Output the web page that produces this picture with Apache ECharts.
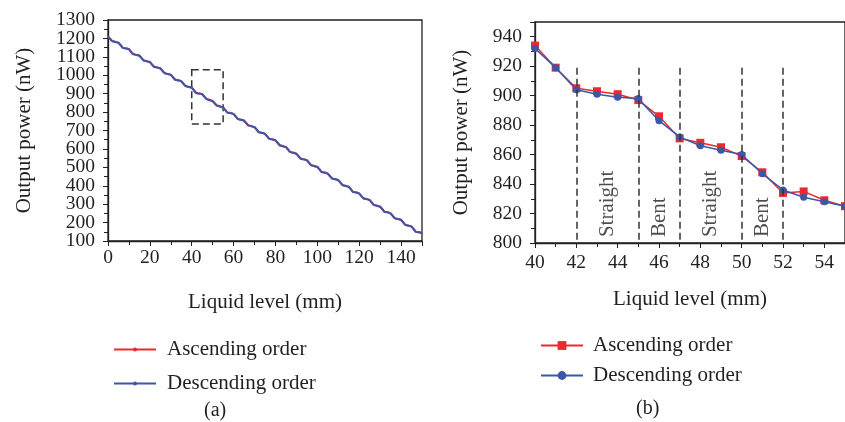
<!DOCTYPE html>
<html><head><meta charset="utf-8">
<script src="https://cdn.jsdelivr.net/npm/echarts@6/dist/echarts.min.js"></script>
<style>html,body{margin:0;padding:0;background:#fff}#c{width:845px;height:422px}</style>
</head><body><div id="c"></div>
<script>
// Liquid level (mm), 1 mm steps from 0 to 150
const levels = Array.from({length: 151}, (_, i) => i);
// Output power (nW), ascending order measurement
const ascending = [
  1212,1198,1186,1184,1180, 1177,1165,1150,1147,1146, 1141,1128,1114,1113,1109,
  1107,1093,1081,1078,1075, 1073,1058,1046,1044,1040, 1038,1025,1011,1008,1006,
  1002,990,977,974,971, 968,955,941,938,936, 934,919,905,903,901,
  897,886,871,868,865, 859,848,834,835,829, 825,811,798,797,793,
  789,777,762,760,757, 754,740,727,726,722, 718,706,691,688,686,
  682,668,656,653,650, 647,633,619,618,614, 610,598,583,580,578,
  574,560,548,545,542, 539,525,511,510,506, 502,490,475,472,470,
  466,452,440,437,434, 431,417,403,402,398, 394,382,367,364,362,
  358,344,332,329,326, 323,309,295,294,290, 286,274,259,256,254,
  250,236,224,221,218, 215,201,187,186,182, 178,166,151,148,146,
  142
];
// Output power (nW), descending order measurement
const descending = [
  1210,1197,1185,1182,1179, 1176,1163,1149,1146,1144, 1142,1127,1115,1112,1110,
  1106,1094,1080,1077,1074, 1071,1059,1045,1043,1041, 1037,1024,1012,1009,1005,
  1003,989,976,973,972, 967,954,942,939,935, 932,919,904,901,899,
  898,883,872,866,863, 860,847,836,831,828, 825,812,797,795,794,
  790,776,763,759,758, 753,741,728,725,721, 719,705,690,689,687,
  681,669,655,652,651, 646,634,620,616,613, 611,596,584,581,579,
  573,561,547,544,543, 538,526,512,508,505, 503,489,474,473,471,
  465,453,439,436,435, 430,418,404,400,397, 395,381,366,365,363,
  357,345,331,328,327, 322,310,296,292,289, 287,273,258,257,255,
  249,237,223,220,219, 214,202,188,184,181, 179,165,150,149,147,
  141
];
// zoomed window (b): 40..55 mm
const zoomStart = 40, zoomEnd = 55;
const zoomLevels = levels.slice(zoomStart, zoomEnd + 1);
const zoomAsc = ascending.slice(zoomStart, zoomEnd + 1);
const zoomDesc = descending.slice(zoomStart, zoomEnd + 1);
// section boundaries and section names in (b)
const boundaries = [42, 45, 47, 50, 52];
const sectionNames = ['Straight', 'Bent', 'Straight', 'Bent'];
const sectionCenters = [43.5, 46, 48.5, 51];
const seriesNames = ['Ascending order', 'Descending order'];
const SUFFIX_B = ' [b]';
const seriesNamesB = seriesNames.map(n => n + SUFFIX_B);
const captions = ['(a)', '(b)'];

const FONT = 'Liberation Serif';
const TXT = '#231f20';
const RED = '#ea2a2f';
const BLUE = '#3b57a8';

function label(extra) {
  return Object.assign({fontSize: 19.5, fontFamily: FONT, color: TXT,
    formatter: v => String(v), hideOverlap: false}, extra);
}
function axisCommon(extra) {
  return Object.assign({
    nameLocation: 'middle',
    nameTextStyle: {fontSize: 21, fontFamily: FONT, color: TXT},
    axisLine: {show: true, onZero: false, lineStyle: {color: TXT, width: 1.3}},
    axisTick: {show: true, inside: false, length: 5, lineStyle: {color: TXT, width: 1}},
    minorTick: {show: true, splitNumber: 2, length: 4, lineStyle: {color: TXT, width: 1}},
    splitLine: {show: false},
    minorSplitLine: {show: false}
  }, extra);
}

const chart = echarts.init(document.getElementById('c'), null, {renderer: 'canvas'});
const option = {
  animation: false,
  backgroundColor: '#fff',
  textStyle: {fontFamily: FONT, color: TXT},
  grid: [
    {left: 108, top: 20, width: 314, height: 221, show: true, borderColor: TXT, borderWidth: 1.3, containLabel: false},
    {left: 535, top: 22, width: 315.5, height: 221, show: true, borderColor: TXT, borderWidth: 1.3, containLabel: false}
  ],
  xAxis: [
    axisCommon({gridIndex: 0, type: 'value', min: 0, max: 150, interval: 20,
      name: 'Liquid level (mm)', nameGap: 51,
      axisLabel: label({margin: 7, showMinLabel: true, showMaxLabel: false})}),
    axisCommon({gridIndex: 1, type: 'value', min: zoomStart, max: zoomEnd, interval: 2,
      name: 'Liquid level (mm)', nameGap: 46,
      axisLabel: label({margin: 10, showMinLabel: true, showMaxLabel: false})})
  ],
  yAxis: [
    // (a) main axis: ticks every 100, labels for the even hundreds
    axisCommon({gridIndex: 0, type: 'value', min: 100, max: 1300, interval: 100,
      name: 'Output power (nW)', nameGap: 73,
      axisLabel: label({margin: 13, formatter: v => (v % 200 === 0 ? String(v) : '')})}),
    axisCommon({gridIndex: 1, type: 'value', min: 800, max: 950, interval: 20,
      name: 'Output power (nW)', nameGap: 63,
      axisLabel: label({margin: 13, showMinLabel: true, showMaxLabel: false})}),
    // (a) companion axis carrying the odd-hundred labels (100, 300, ... 1300)
    {gridIndex: 0, type: 'value', position: 'left', min: 100, max: 1300, interval: 200,
      axisLine: {show: false}, axisTick: {show: false}, splitLine: {show: false},
      axisLabel: label({margin: 13, showMinLabel: true, showMaxLabel: true})}
  ],
  legend: [
    {orient: 'vertical', left: 108, top: 334, itemWidth: 42, itemHeight: 5, itemGap: 13,
      data: seriesNames,
      textStyle: {fontSize: 21, fontFamily: FONT, color: TXT, padding: [0, 0, 0, 6]},
      selectedMode: false},
    {orient: 'vertical', left: 535, top: 330, itemWidth: 42, itemHeight: 11, itemGap: 9,
      data: seriesNamesB,
      formatter: n => n.replace(SUFFIX_B, ''),
      textStyle: {fontSize: 21, fontFamily: FONT, color: TXT, padding: [0, 0, 0, 5]},
      selectedMode: false}
  ],
  graphic: [
    {type: 'text', left: 204, top: 401, style: {text: captions[0], font: '20px "Liberation Serif"', fill: TXT}},
    {type: 'text', left: 636, top: 399, style: {text: captions[1], font: '20px "Liberation Serif"', fill: TXT}}
  ],
  series: [
    {
      name: seriesNames[0], type: 'line', xAxisIndex: 0, yAxisIndex: 0,
      data: levels.map((x, i) => [x, ascending[i]]),
      showSymbol: false, symbol: 'circle', symbolSize: 3,
      lineStyle: {color: RED, width: 2}, itemStyle: {color: RED}, z: 3,
      markArea: {
        silent: true,
        itemStyle: {color: 'rgba(0,0,0,0)', borderColor: '#333', borderWidth: 1.5, borderType: [7, 4]},
        data: [[{coord: [zoomStart, 1030]}, {coord: [zoomEnd, 735]}]]
      }
    },
    {
      name: seriesNames[1], type: 'line', xAxisIndex: 0, yAxisIndex: 0,
      data: levels.map((x, i) => [x, descending[i]]),
      showSymbol: false, symbol: 'circle', symbolSize: 3,
      lineStyle: {color: BLUE, width: 2}, itemStyle: {color: BLUE}, z: 4
    },
    {
      name: 'sections', type: 'scatter', xAxisIndex: 1, yAxisIndex: 1, z: 1, silent: true,
      symbolSize: 1, itemStyle: {color: 'rgba(0,0,0,0)'},
      data: sectionCenters.map((x, i) => ({value: [x, 804], label: {formatter: sectionNames[i]}})),
      label: {show: true, position: 'inside', rotate: 90, align: 'left', verticalAlign: 'middle',
        fontSize: 21, fontFamily: FONT, color: TXT},
      markLine: {
        silent: true, symbol: ['none', 'none'], label: {show: false},
        lineStyle: {color: '#333', width: 1.5, type: [7, 4]},
        data: boundaries.map(b => [{coord: [b, 919]}, {coord: [b, 800]}])
      }
    },
    {
      name: seriesNamesB[0], type: 'line', xAxisIndex: 1, yAxisIndex: 1, z: 3,
      data: zoomLevels.map((x, i) => [x, zoomAsc[i]]),
      symbol: 'rect', symbolSize: 8, clip: true,
      lineStyle: {color: RED, width: 1.5}, itemStyle: {color: RED}
    },
    {
      name: seriesNamesB[1], type: 'line', xAxisIndex: 1, yAxisIndex: 1, z: 4,
      data: zoomLevels.map((x, i) => [x, zoomDesc[i]]),
      symbol: 'circle', symbolSize: 7, clip: true,
      lineStyle: {color: BLUE, width: 1.5}, itemStyle: {color: BLUE}
    }
  ]
};
chart.setOption(option);
</script>
</body></html>
